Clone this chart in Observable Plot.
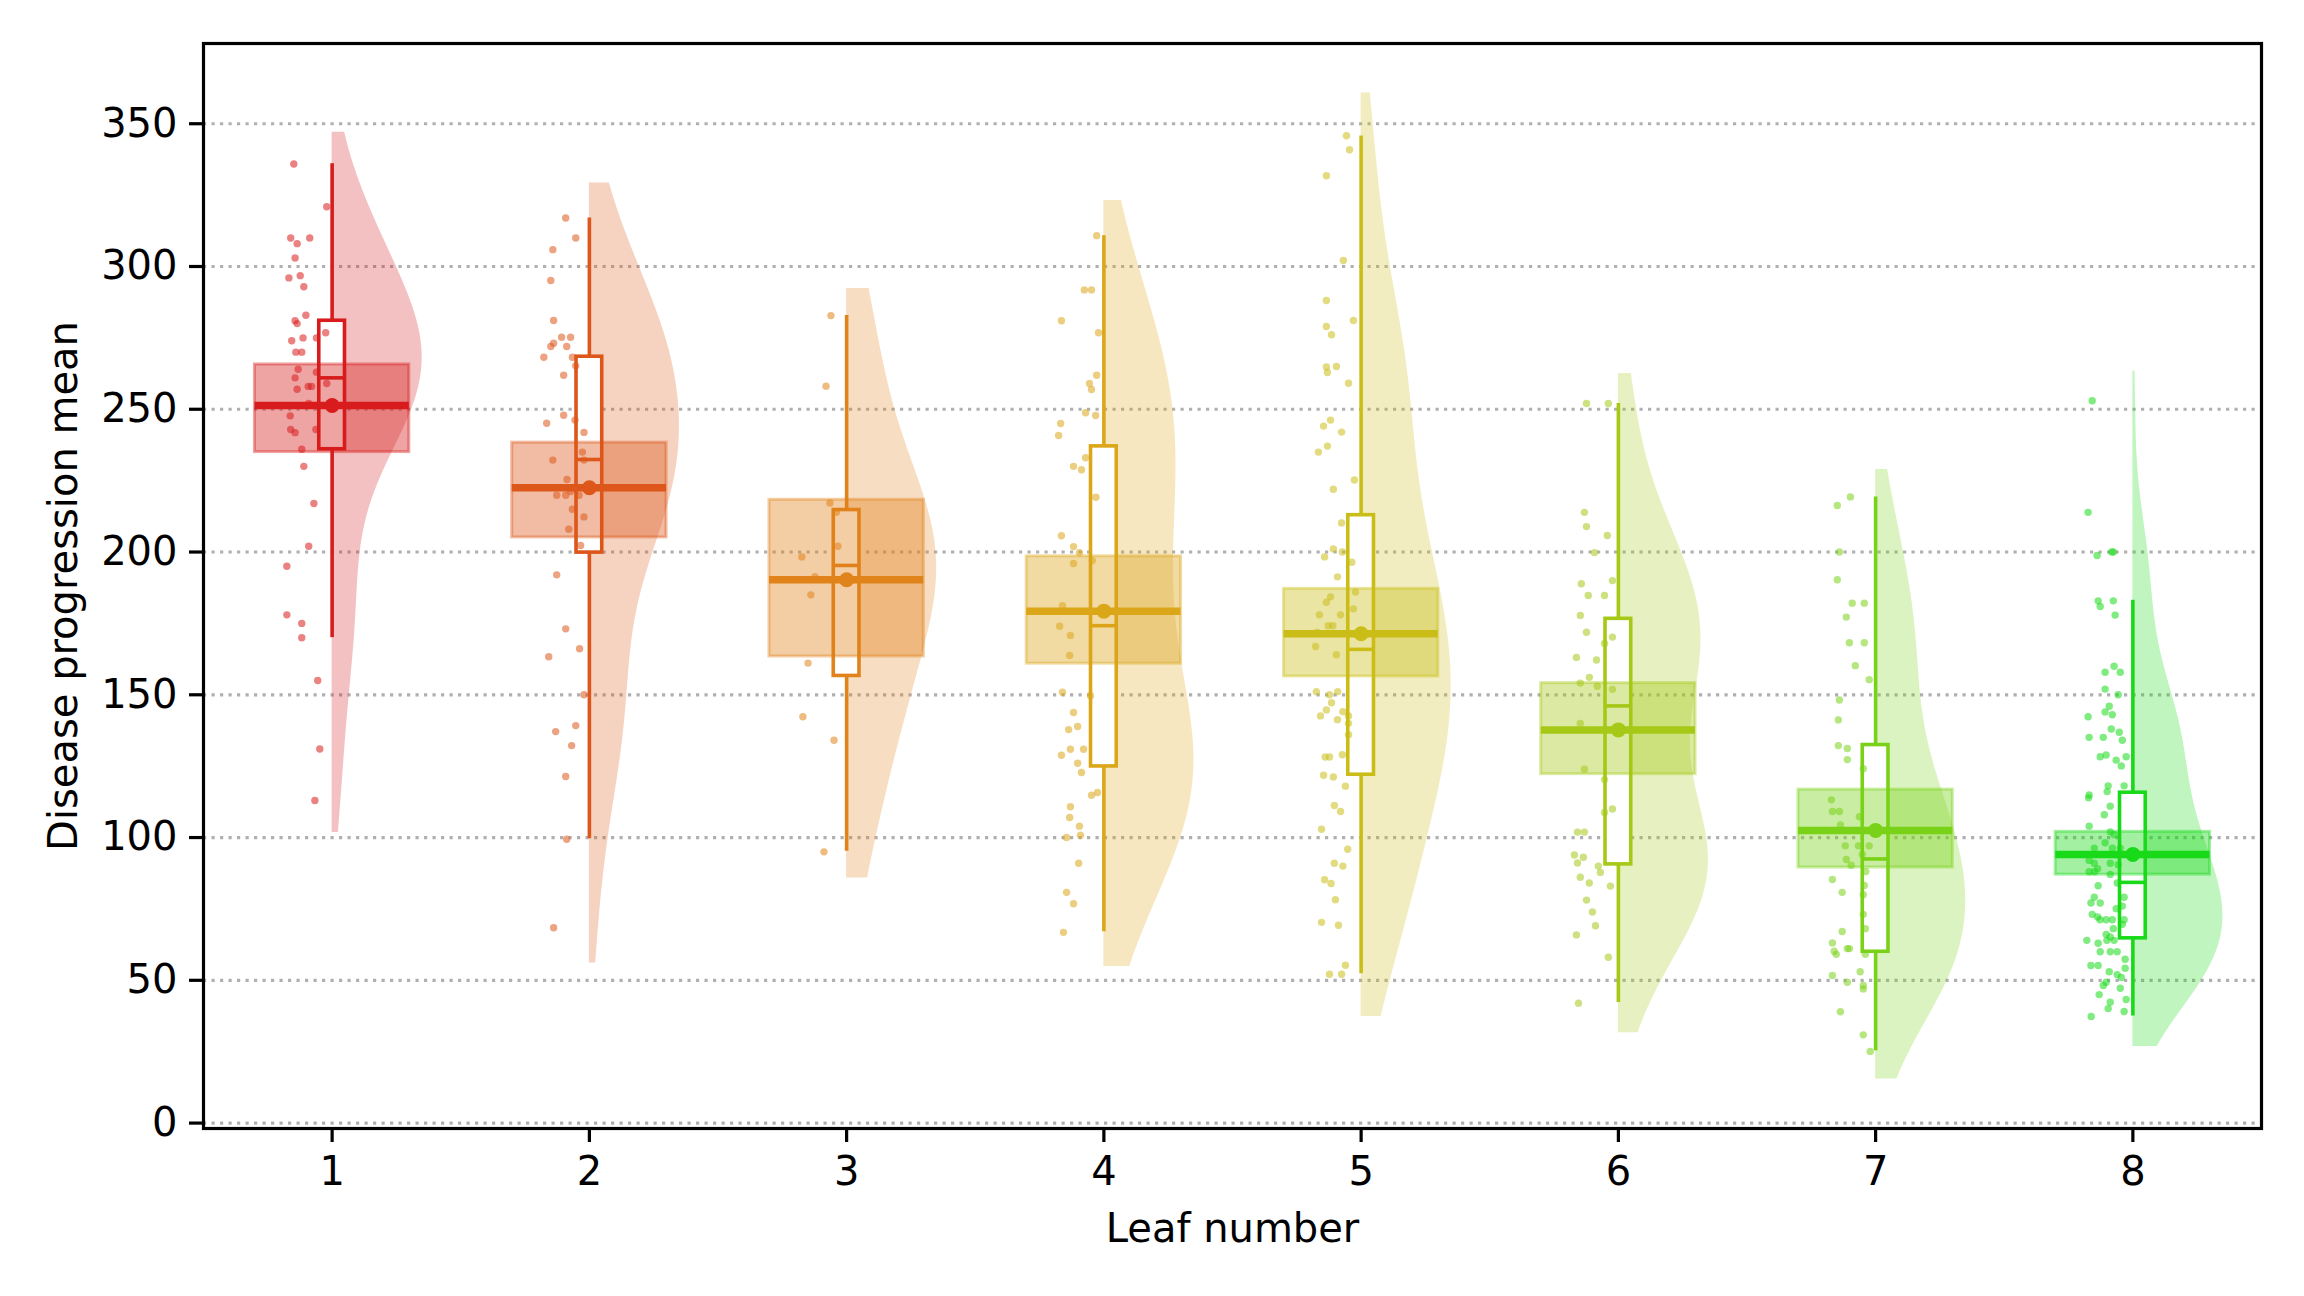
<!DOCTYPE html>
<html>
<head>
<meta charset="utf-8">
<script src="https://cdn.jsdelivr.net/npm/d3@7"></script>
<script src="https://cdn.jsdelivr.net/npm/@observablehq/plot@0.6"></script>
<style>
  html, body { margin: 0; padding: 0; background: white; overflow: hidden; }
</style>
</head>
<body>
<div id="chart"></div>
<script>
// ---- Categories, colours, tick labels ----
const leaves = [1, 2, 3, 4, 5, 6, 7, 8];
const colors = ["#d81b1c", "#dc5719", "#e0831a", "#dca619", "#cbbd17", "#a6c917", "#79d217", "#18da18"];
const yTicks = [0, 50, 100, 150, 200, 250, 300, 350];

// ---- Summary values ----
const means   = [251.3, 222.5, 190.3, 179.3, 171.4, 137.7, 102.5, 94.1];
const ciLo    = [235.0, 205.1, 163.4, 160.9, 156.4, 122.2, 89.5, 87.0];
const ciHi    = [265.7, 238.3, 218.3, 198.5, 187.1, 154.1, 116.8, 102.0];
const q1      = [236.0, 199.8, 156.6, 124.9, 122.0, 90.6, 60.0, 64.7];
const medians = [261.0, 232.4, 195.3, 174.2, 165.9, 146.1, 92.5, 84.3];
const q3      = [281.0, 268.4, 214.7, 237.0, 212.9, 176.6, 132.4, 115.7];
const whiskLo = [170.0, 99.6, 95.2, 67.0, 52.3, 42.2, 25.3, 37.5];
const whiskHi = [336.0, 317.0, 282.8, 310.8, 345.7, 252.0, 219.3, 183.1];
const violinLo = [101.8, 56.1, 85.8, 54.8, 37.3, 31.6, 15.4, 26.8];
const violinHi = [347.0, 329.2, 292.3, 323.1, 360.8, 262.5, 228.9, 263.4];

// ---- Individual observations (value) and their horizontal jitter (leaf units) ----
const values1 = [335.9,320.9,310,310,308,303,296,296.8,292.9,282.9,281,280,276.8,274,275,275,270,270,264,263,261,259,257,258,258,252,247.7,242.9,242.9,241.8,236,230,217,202,195,178,175,170,155,131,113];
const jitter1 = [-0.149,-0.021,-0.161,-0.087,-0.136,-0.144,-0.168,-0.124,-0.110,-0.102,-0.144,-0.136,-0.025,-0.157,-0.113,-0.061,-0.141,-0.118,-0.132,-0.061,-0.144,-0.021,-0.136,-0.093,-0.080,-0.091,-0.163,-0.161,-0.063,-0.144,-0.118,-0.110,-0.071,-0.091,-0.176,-0.176,-0.118,-0.118,-0.056,-0.048,-0.067];

const values2 = [317,310,305.9,295.1,281.1,275.2,275.2,273.1,272,272,268.2,268.2,265.2,261.9,247.9,246.2,245.1,241.9,235,232.2,232.2,225.4,219.9,219.9,221.2,219.9,215,212.3,208,202.3,192,173.1,166.1,163.3,150,139.2,137.1,132.2,121.4,99.4,68.4];
const jitter2 = [-0.092,-0.053,-0.142,-0.150,-0.139,-0.108,-0.073,-0.139,-0.088,-0.150,-0.177,-0.066,-0.053,-0.100,-0.100,-0.056,-0.166,-0.021,-0.027,-0.142,-0.021,-0.087,-0.127,-0.092,-0.073,-0.040,-0.066,-0.021,-0.080,-0.034,-0.127,-0.092,-0.038,-0.158,-0.021,-0.053,-0.131,-0.069,-0.092,-0.088,-0.139];

const values3 = [282.8,258.1,217.2,213.9,202.0,198.3,191.4,185.0,161.1,142.3,134.1,95.0];
const jitter3 = [-0.061,-0.080,-0.065,-0.040,-0.034,-0.174,-0.123,-0.139,-0.150,-0.170,-0.049,-0.088];

const values4 = [310.8,291.8,291.8,281.0,276.8,261.9,259.0,256.9,248.8,247.8,245.0,240.8,233.0,230.0,228.8,219.2,205.7,201.9,199.8,197.0,196.0,181.2,174.0,170.8,163.8,150.9,149.7,143.8,138.9,137.8,130.9,130.9,128.8,126.0,122.8,115.8,114.8,110.8,107.0,104.0,100.8,100.0,91.0,80.8,76.8,66.8];
const jitter4 = [-0.028,-0.076,-0.048,-0.165,-0.021,-0.028,-0.056,-0.048,-0.071,-0.032,-0.168,-0.176,-0.071,-0.118,-0.087,-0.031,-0.165,-0.118,-0.095,-0.045,-0.118,-0.161,-0.172,-0.130,-0.133,-0.161,-0.052,-0.118,-0.102,-0.137,-0.130,-0.079,-0.165,-0.102,-0.087,-0.025,-0.048,-0.130,-0.133,-0.095,-0.091,-0.145,-0.098,-0.145,-0.118,-0.157];

const values5 = [345.8,340.9,331.8,302.1,288.1,281.1,279.0,276.1,265.0,264.8,262.9,259.1,246.2,244.1,242.0,237.1,235.0,225.2,222.0,210.2,201.1,200.0,198.3,196.4,191.3,186.0,184.3,182.4,180.1,178.0,178.0,174.2,174.2,171.8,166.9,164.0,151.1,151.1,150.0,147.2,144.7,144.1,142.6,142.6,141.3,140.0,136.0,129.0,128.2,128.2,121.8,121.2,118.0,111.2,109.1,102.9,95.9,91.0,90.0,85.2,83.9,78.2,70.3,69.3,55.3,52.1,52.1];
const jitter5 = [-0.057,-0.045,-0.135,-0.069,-0.135,-0.030,-0.135,-0.115,-0.096,-0.135,-0.131,-0.049,-0.119,-0.146,-0.076,-0.131,-0.166,-0.026,-0.108,-0.076,-0.108,-0.073,-0.142,-0.036,-0.092,-0.022,-0.119,-0.135,-0.030,-0.162,-0.080,-0.128,-0.110,-0.171,-0.177,-0.096,-0.174,-0.091,-0.123,-0.115,-0.135,-0.071,-0.158,-0.049,-0.092,-0.049,-0.049,-0.073,-0.140,-0.123,-0.146,-0.108,-0.061,-0.104,-0.080,-0.154,-0.052,-0.104,-0.071,-0.142,-0.117,-0.100,-0.154,-0.088,-0.061,-0.123,-0.076];

const values6 = [252.0,252.0,213.9,208.9,205.8,199.8,190.0,188.9,184.8,184.8,177.8,171.9,170.2,168.0,163.1,162.2,156.1,154.1,153.0,151.9,140.0,123.9,120.3,110.0,108.8,101.9,101.9,93.9,93.1,91.1,90.0,87.8,86.1,84.1,83.0,78.1,73.9,69.1,65.9,58.1,42.0];
const jitter6 = [-0.124,-0.039,-0.132,-0.124,-0.043,-0.093,-0.023,-0.144,-0.117,-0.054,-0.148,-0.124,-0.023,-0.054,-0.163,-0.085,-0.113,-0.148,-0.082,-0.023,-0.148,-0.132,-0.054,-0.023,-0.054,-0.159,-0.132,-0.171,-0.136,-0.159,-0.078,-0.070,-0.148,-0.113,-0.031,-0.124,-0.101,-0.089,-0.163,-0.039,-0.155];

const values7 = [219.3,216.3,200.0,190.3,182.1,182.1,177.2,168.2,168.2,160.2,155.3,148.2,141.2,132.2,131.2,127.3,124.1,113.2,109.1,109.1,107.3,104.4,97.1,97.1,97.1,94.1,92.3,90.3,88.1,85.3,83.2,80.8,80.0,73.1,68.1,67.1,63.1,61.1,61.1,60.2,59.1,59.1,53.0,51.7,49.3,48.2,47.0,39.0,30.9,25.1];
const jitter7 = [-0.098,-0.149,-0.141,-0.149,-0.091,-0.044,-0.114,-0.102,-0.044,-0.079,-0.025,-0.141,-0.145,-0.145,-0.110,-0.110,-0.048,-0.172,-0.168,-0.141,-0.063,-0.137,-0.118,-0.067,-0.025,-0.052,-0.114,-0.095,-0.038,-0.168,-0.044,-0.130,-0.048,-0.048,-0.040,-0.130,-0.168,-0.110,-0.102,-0.161,-0.153,-0.040,-0.060,-0.168,-0.110,-0.048,-0.048,-0.137,-0.048,-0.021];

const values8 = [253.0,213.9,198.8,200.0,200.0,182.9,182.9,180.9,177.9,160.0,157.9,157.9,152.0,150.0,146.0,144.0,143.0,142.3,138.0,136.9,135.1,135.1,134.1,128.9,128.3,128.3,127.1,125.1,118.1,118.1,116.1,114.9,113.9,111.0,108.0,104.0,102.0,101.0,98.2,96.3,96.3,96.3,94.0,92.0,91.0,91.0,90.5,89.1,88.0,88.0,87.1,84.1,83.1,79.1,79.1,77.1,77.1,76.0,75.1,73.1,72.2,71.2,71.2,71.2,71.2,69.6,68.1,66.1,65.2,64.0,64.0,64.0,63.0,60.0,60.0,60.0,57.4,55.2,55.2,54.2,53.0,52.0,51.0,49.3,48.2,47.2,45.0,43.3,42.3,40.1,39.1,37.3];
const jitter8 = [-0.158,-0.174,-0.139,-0.082,-0.076,-0.135,-0.076,-0.127,-0.069,-0.073,-0.108,-0.049,-0.108,-0.057,-0.092,-0.108,-0.080,-0.174,-0.084,-0.053,-0.170,-0.115,-0.041,-0.104,-0.127,-0.026,-0.065,-0.045,-0.096,-0.034,-0.100,-0.170,-0.172,-0.088,-0.111,-0.170,-0.088,-0.073,-0.108,-0.150,-0.080,-0.049,-0.065,-0.170,-0.150,-0.088,-0.057,-0.137,-0.170,-0.149,-0.088,-0.061,-0.135,-0.150,-0.034,-0.163,-0.127,-0.041,-0.065,-0.158,-0.137,-0.128,-0.104,-0.080,-0.034,-0.041,-0.076,-0.104,-0.088,-0.179,-0.101,-0.073,-0.135,-0.127,-0.088,-0.061,-0.030,-0.163,-0.135,-0.030,-0.092,-0.061,-0.045,-0.104,-0.115,-0.049,-0.131,-0.026,-0.088,-0.096,-0.034,-0.162];

const allValues = [values1, values2, values3, values4, values5, values6, values7, values8];
const allJitter = [jitter1, jitter2, jitter3, jitter4, jitter5, jitter6, jitter7, jitter8];

// ---- Tables built from the arrays ----
const summary = leaves.map((g, i) => ({
  g, mean: means[i], ciLo: ciLo[i], ciHi: ciHi[i],
  q1: q1[i], med: medians[i], q3: q3[i], wLo: whiskLo[i], wHi: whiskHi[i]
}));

const points = leaves.flatMap((g, i) => allValues[i].map((v, k) => ({g, v, j: allJitter[i][k]})));

// Half-violin: Gaussian KDE (Scott's rule) of each group's observations
const VIOLIN_HALF = 0.35;
const violin = leaves.flatMap((g, i) => {
  const vals = allValues[i];
  const bw = d3.deviation(vals) * Math.pow(vals.length, -0.2);
  const n = 200, lo = violinLo[i], hi = violinHi[i];
  const rows = d3.range(n + 1).map(k => {
    const y = lo + (hi - lo) * k / n;
    const dens = d3.sum(vals, v => Math.exp(-0.5 * ((y - v) / bw) ** 2));
    return {g, y, dens};
  });
  const mx = d3.max(rows, r => r.dens);
  return rows.map(r => ({g, y: r.y, x1: g, x2: g + VIOLIN_HALF * r.dens / mx}));
});

const CI_HALF = 0.3, BOX_HALF = 0.05;

const chart = Plot.plot({
  width: 2304,
  height: 1296,
  marginLeft: 203,
  marginRight: 43,
  marginTop: 43,
  marginBottom: 168,
  x: {domain: [0.5, 8.5]},
  y: {domain: [-1.9, 378.1]},
  color: {type: "ordinal", domain: leaves, range: colors},
  style: {fontFamily: "'DejaVu Sans', sans-serif", fontSize: "40px", background: "white", color: "black"},
  marks: [
    Plot.gridY(yTicks, {stroke: "#b0b0b0", strokeOpacity: 1, strokeWidth: 3.2, strokeDasharray: "3.2,5.3"}),
    Plot.areaX(violin, {y: "y", x1: "x1", x2: "x2", z: "g", fill: "g", fillOpacity: 0.27, curve: "linear"}),
    Plot.ruleX(summary, {x: "g", y1: "wLo", y2: "q1", stroke: "g", strokeWidth: 3.6}),
    Plot.ruleX(summary, {x: "g", y1: "q3", y2: "wHi", stroke: "g", strokeWidth: 3.6}),
    Plot.rect(summary, {x1: d => d.g - BOX_HALF, x2: d => d.g + BOX_HALF, y1: "q1", y2: "q3", fill: "white", stroke: "g", strokeWidth: 3.6}),
    Plot.ruleY(summary, {y: "med", x1: d => d.g - BOX_HALF, x2: d => d.g + BOX_HALF, stroke: "g", strokeWidth: 3.6}),
    Plot.rect(summary, {x1: d => d.g - CI_HALF, x2: d => d.g + CI_HALF, y1: "ciLo", y2: "ciHi", fill: "g", fillOpacity: 0.4, stroke: "g", strokeOpacity: 0.4, strokeWidth: 3}),
    Plot.dot(points, {x: d => d.g + d.j, y: "v", r: 3.7, fill: "g", fillOpacity: 0.55, stroke: null}),
    Plot.ruleY(summary, {y: "mean", x1: d => d.g - CI_HALF, x2: d => d.g + CI_HALF, stroke: "g", strokeWidth: 7.5}),
    Plot.dot(summary, {x: "g", y: "mean", r: 7.5, fill: "g", stroke: null}),
    Plot.frame({stroke: "black", strokeWidth: 3.2}),
    Plot.axisX(leaves, {tickSize: 14, tickPadding: 14, strokeWidth: 3.2, fontSize: 40, tickFormat: d => String(d),
      label: "Leaf number", labelAnchor: "center", labelOffset: 113, labelArrow: "none"}),
    Plot.axisY(yTicks, {tickSize: 14, tickPadding: 12, strokeWidth: 3.2, fontSize: 40, tickFormat: d => String(d),
      label: "Disease progression mean", labelAnchor: "center", labelOffset: 155, labelArrow: "none"})
  ]
});

document.getElementById("chart").appendChild(chart);
</script>
</body>
</html>
